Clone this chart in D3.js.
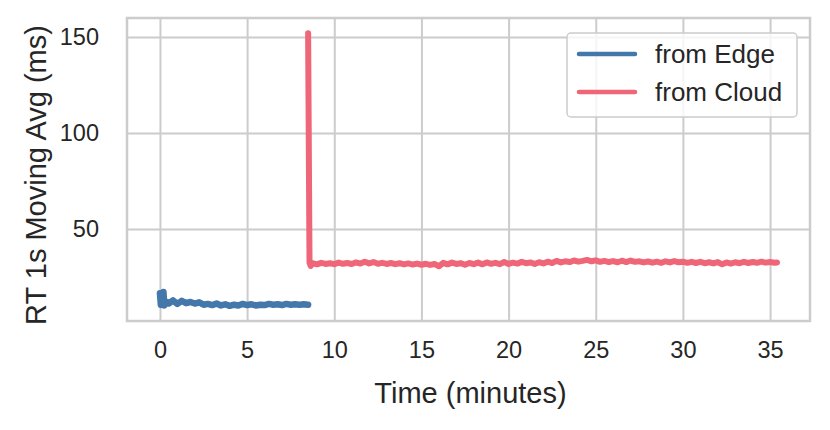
<!DOCTYPE html>
<html>
<head>
<meta charset="utf-8">
<script src="https://cdn.jsdelivr.net/npm/d3@7"></script>
<style>
  html, body { margin: 0; padding: 0; background: #ffffff; }
  svg { display: block; }
  text { font-family: "Liberation Sans", Arial, sans-serif; fill: #262626; }
</style>
</head>
<body>
<svg id="chart" width="830" height="430"></svg>
<script>
// ---- data ----
const edgeTimes = [0, 0.05, 0.1, 0.15, 0.2, 0.25, 0.3, 0.5, 0.75, 1.0, 1.25, 1.5, 1.75, 2.0, 2.25, 2.5, 2.75, 3.0, 3.25, 3.5, 3.75, 4.0, 4.25, 4.5, 4.75, 5.0, 5.25, 5.5, 5.75, 6.0, 6.25, 6.5, 6.75, 7.0, 7.25, 7.5, 7.75, 8.0, 8.25, 8.5];
const edgeValues = [16.5, 10.5, 15.8, 10.8, 17.2, 10.2, 12.5, 11.2, 12.8, 11.0, 12.6, 11.4, 12.0, 11.2, 11.8, 10.6, 11.0, 10.4, 11.2, 10.2, 10.8, 10.0, 10.6, 10.2, 11.0, 10.4, 10.8, 10.2, 10.6, 10.4, 11.0, 10.6, 10.8, 10.4, 11.0, 10.6, 10.8, 10.6, 10.8, 10.6];

const cloudTimes = [8.5, 8.58, 8.65, 8.75, 9.0, 9.25, 9.5, 9.75, 10.0, 10.25, 10.5, 10.75, 11.0, 11.25, 11.5, 11.75, 12.0, 12.25, 12.5, 12.75, 13.0, 13.25, 13.5, 13.75, 14.0, 14.25, 14.5, 14.75, 15.0, 15.25, 15.5, 15.75, 16.0, 16.25, 16.5, 16.75, 17.0, 17.25, 17.5, 17.75, 18.0, 18.25, 18.5, 18.75, 19.0, 19.25, 19.5, 19.75, 20.0, 20.25, 20.5, 20.75, 21.0, 21.25, 21.5, 21.75, 22.0, 22.25, 22.5, 22.75, 23.0, 23.25, 23.5, 23.75, 24.0, 24.25, 24.5, 24.75, 25.0, 25.25, 25.5, 25.75, 26.0, 26.25, 26.5, 26.75, 27.0, 27.25, 27.5, 27.75, 28.0, 28.25, 28.5, 28.75, 29.0, 29.25, 29.5, 29.75, 30.0, 30.25, 30.5, 30.75, 31.0, 31.25, 31.5, 31.75, 32.0, 32.25, 32.5, 32.75, 33.0, 33.25, 33.5, 33.75, 34.0, 34.25, 34.5, 34.75, 35.0, 35.25, 35.4];
const cloudValues = [152, 32.5, 30.8, 32.2, 31.6, 32.4, 31.8, 32.2, 31.7, 32.5, 31.9, 32.3, 31.8, 32.6, 32.0, 33.0, 32.1, 32.8, 31.9, 32.4, 31.8, 32.3, 31.7, 32.2, 31.6, 32.1, 31.5, 32.0, 31.4, 31.9, 31.3, 31.8, 30.6, 32.4, 31.6, 32.5, 31.8, 32.2, 31.4, 32.3, 31.7, 32.5, 31.6, 32.6, 31.9, 32.4, 31.7, 32.8, 31.8, 32.5, 32.0, 32.9, 32.2, 32.6, 31.8, 32.7, 32.1, 33.0, 32.3, 33.4, 32.6, 33.2, 32.8, 33.6, 33.0, 33.4, 33.9, 33.2, 33.7, 32.9, 33.4, 32.8, 33.3, 32.7, 33.5, 32.8, 33.6, 32.9, 33.2, 32.6, 33.1, 32.5, 33.0, 32.4, 33.2, 32.6, 33.3, 32.7, 33.0, 32.4, 32.9, 32.3, 32.9, 32.2, 32.7, 32.1, 32.8, 31.6, 32.6, 32.0, 32.7, 32.2, 32.9, 32.3, 32.8, 32.4, 33.0, 32.5, 32.8, 32.4, 32.6];

const xTicks = [0, 5, 10, 15, 20, 25, 30, 35];
const yTicks = [50, 100, 150];
const seriesNames = ["from Edge", "from Cloud"];
const seriesColors = ["#4477AA", "#EE6677"];

// ---- layout ----
const svg = d3.select("#chart");
const plot = { left: 127, right: 810, top: 18, bottom: 321 };
const tickFont = 23.5;
const labelFont = 29;
const legendFont = 26;

const x = d3.scaleLinear().domain([-1.89, 37.29]).range([plot.left, plot.right]);
const y = d3.scaleLinear().domain([2.1, 159.9]).range([plot.bottom, plot.top]);

// gridlines
const gridColor = "#cccccc";
svg.append("g")
  .attr("transform", `translate(0,${plot.bottom})`)
  .call(d3.axisBottom(x).tickValues(xTicks).tickSize(-(plot.bottom - plot.top)).tickFormat(""))
  .call(g => g.select(".domain").remove())
  .call(g => g.selectAll("line").attr("stroke", gridColor).attr("stroke-width", 2));

svg.append("g")
  .attr("transform", `translate(${plot.left},0)`)
  .call(d3.axisLeft(y).tickValues(yTicks).tickSize(-(plot.right - plot.left)).tickFormat(""))
  .call(g => g.select(".domain").remove())
  .call(g => g.selectAll("line").attr("stroke", gridColor).attr("stroke-width", 2));

// tick labels
svg.append("g")
  .attr("transform", `translate(0,${plot.bottom})`)
  .call(d3.axisBottom(x).tickValues(xTicks).tickSize(0).tickPadding(20).tickFormat(d3.format("d")))
  .call(g => g.select(".domain").remove())
  .call(g => g.selectAll("text").attr("font-size", tickFont).attr("fill", "#262626")
    .attr("font-family", "Liberation Sans, Arial, sans-serif"));

svg.append("g")
  .attr("transform", `translate(${plot.left},0)`)
  .call(d3.axisLeft(y).tickValues(yTicks).tickSize(0).tickPadding(28).tickFormat(d3.format("d")))
  .call(g => g.select(".domain").remove())
  .call(g => g.selectAll("text").attr("font-size", tickFont).attr("fill", "#262626")
    .attr("font-family", "Liberation Sans, Arial, sans-serif"));

// lines
const line = d3.line().x(d => x(d[0])).y(d => y(d[1]));
const edgeData = d3.zip(edgeTimes, edgeValues);
const cloudData = d3.zip(cloudTimes, cloudValues);

const clipId = "plotclip";
svg.append("clipPath").attr("id", clipId).append("rect")
  .attr("x", plot.left).attr("y", plot.top)
  .attr("width", plot.right - plot.left).attr("height", plot.bottom - plot.top);

const lines = svg.append("g").attr("clip-path", `url(#${clipId})`);
lines.append("path").datum(edgeData)
  .attr("d", line).attr("fill", "none")
  .attr("stroke", seriesColors[0]).attr("stroke-width", 6.5)
  .attr("stroke-linejoin", "round").attr("stroke-linecap", "round");
lines.append("path").datum(cloudData)
  .attr("d", line).attr("fill", "none")
  .attr("stroke", seriesColors[1]).attr("stroke-width", 6)
  .attr("stroke-linejoin", "round").attr("stroke-linecap", "round");

// frame (spines)
svg.append("rect")
  .attr("x", plot.left).attr("y", plot.top)
  .attr("width", plot.right - plot.left).attr("height", plot.bottom - plot.top)
  .attr("fill", "none").attr("stroke", gridColor).attr("stroke-width", 2.5);

// axis titles
svg.append("text")
  .attr("x", (plot.left + plot.right) / 2 + 2).attr("y", 403)
  .attr("text-anchor", "middle").attr("font-size", labelFont)
  .text("Time (minutes)");

svg.append("text")
  .attr("transform", `translate(46,175) rotate(-90)`)
  .attr("text-anchor", "middle").attr("font-size", labelFont)
  .text("RT 1s Moving Avg (ms)");

// legend
const lg = svg.append("g").attr("transform", "translate(567,33)");
lg.append("rect").attr("x", 0).attr("y", 0).attr("width", 230).attr("height", 84)
  .attr("rx", 4).attr("ry", 4)
  .attr("fill", "#ffffff").attr("fill-opacity", 0.8)
  .attr("stroke", "#cccccc").attr("stroke-width", 1.5);
seriesNames.forEach((name, i) => {
  const cy = 21 + i * 38;
  lg.append("line").attr("x1", 12).attr("x2", 68).attr("y1", cy).attr("y2", cy)
    .attr("stroke", seriesColors[i]).attr("stroke-width", 4.5).attr("stroke-linecap", "round");
  lg.append("text").attr("x", 88).attr("y", cy + 9).attr("font-size", legendFont).text(name);
});
</script>
</body>
</html>
